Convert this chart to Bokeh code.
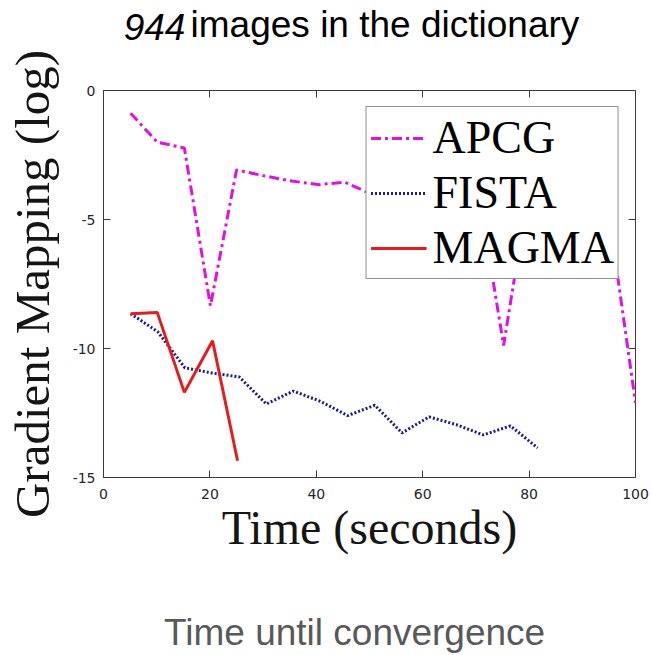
from bokeh.plotting import figure
from bokeh.models import Range1d, FixedTicker, LinearAxis, Legend, LegendItem
from bokeh.embed import file_html
from bokeh.resources import INLINE

# ---- data ----
x_ticks = [0, 20, 40, 60, 80, 100]
y_ticks = [-15, -10, -5, 0]
x_tick_labels = ["0", "20", "40", "60", "80", "100"]
y_tick_labels = ["-15", "-10", "-5", "0"]

apcg_x = [5.1, 10.1, 15.2, 20.1, 25.0, 30.0, 35.0, 40.5, 45.3, 50.2, 55.2, 60.2,
          65.2, 70.2, 75.2, 80.2, 85.2, 90.2, 95.2, 100.0]
apcg_y = [-0.88, -2.0, -2.23, -8.35, -3.08, -3.3, -3.5, -3.65, -3.55, -4.0, -4.1, -3.9,
          -3.7, -3.5, -9.88, -3.5, -3.6, -4.5, -5.1, -12.1]

fista_x = [5.1, 10.2, 15.3, 20.4, 25.5, 30.6, 35.7, 40.8, 45.9, 51.0, 56.1, 61.2,
           66.3, 71.4, 76.5, 81.6]
fista_y = [-8.65, -9.35, -10.75, -10.95, -11.1, -12.15, -11.65, -12.05, -12.6, -12.2,
           -13.27, -12.65, -12.95, -13.35, -13.0, -13.85]

magma_x = [5.1, 10.1, 15.2, 20.5, 25.2]
magma_y = [-8.65, -8.6, -11.7, -9.7, -14.35]

series_names = ["APCG", "FISTA", "MAGMA"]

title_italic = "944"
title_rest = "images in the dictionary"
x_label = "Time (seconds)"
y_label = "Gradient Mapping (log)"
caption = "Time until convergence"

W, H = 652, 655
p = figure(width=W, height=H, output_backend="svg", toolbar_location=None,
           x_range=Range1d(0, 100), y_range=Range1d(-15, 0),
           min_border_left=103, min_border_right=17, min_border_top=90, min_border_bottom=175)
p.title.visible = False
p.grid.visible = False
p.outline_line_color = "#3a3a3a"
p.outline_line_width = 1
p.background_fill_color = "white"
p.border_fill_color = "white"

AXC = "#3a3a3a"


def tick_axis(ax, ticks, labels, standoff):
    ax.ticker = FixedTicker(ticks=ticks)
    ax.axis_line_color = None
    ax.major_tick_in = 7
    ax.major_tick_out = 0
    ax.major_tick_line_color = AXC
    ax.minor_tick_line_color = None
    ax.major_label_text_font = "DejaVu Sans"
    if labels is not None:
        ax.major_label_overrides = {t: s for t, s in zip(ticks, labels)}
        ax.major_label_text_color = "#262626"
        ax.major_label_text_font_size = "14px"
        ax.major_label_standoff = standoff
    else:
        # tick marks only: labels are not drawn at all
        ax.major_label_text_color = None
        ax.major_label_text_font_size = "0px"
        ax.major_label_standoff = 0


def text_axis(pos, text, font, size, color, style, standoff):
    ax = LinearAxis(ticker=FixedTicker(ticks=[pos]), major_label_overrides={pos: text})
    ax.axis_line_color = None
    ax.major_tick_line_color = None
    ax.minor_tick_line_color = None
    ax.major_tick_in = 0
    ax.major_tick_out = 0
    ax.major_label_text_font = font
    ax.major_label_text_font_size = size
    ax.major_label_text_color = color
    ax.major_label_text_font_style = style
    ax.major_label_standoff = standoff
    return ax


xa = p.xaxis[0]
ya = p.yaxis[0]
tick_axis(xa, x_ticks, x_tick_labels, 11)
tick_axis(ya, y_ticks, y_tick_labels, 8)
xa.axis_label = x_label
xa.axis_label_text_font = "Liberation Serif"
xa.axis_label_text_font_size = "48px"
xa.axis_label_text_font_style = "normal"
xa.axis_label_text_color = "#151515"
xa.axis_label_standoff = -1
ya.axis_label = y_label
ya.axis_label_text_font = "Liberation Serif"
ya.axis_label_text_font_size = "49px"
ya.axis_label_text_font_style = "normal"
ya.axis_label_text_color = "#151515"
ya.axis_label_standoff = 10

top_ax = LinearAxis()
right_ax = LinearAxis()
tick_axis(top_ax, x_ticks, None, 0)
tick_axis(right_ax, y_ticks, None, 0)
p.add_layout(top_ax, "above")
p.add_layout(right_ax, "right")

# title line: two text axes stacked so that they share one baseline
p.add_layout(text_axis(52.9, title_rest, "Liberation Sans", "37px", "black", "normal", 46), "above")
p.add_layout(text_axis(9.6, title_italic, "Liberation Sans", "37px", "black", "italic", -39), "above")
# caption below
p.add_layout(text_axis(47.2, caption, "Liberation Sans", "37px", "#595959", "normal", 55), "below")

r_apcg = p.line(apcg_x, apcg_y, line_color="#e010e0", line_width=3, line_dash="10 4 3 4")
r_fista = p.line(fista_x, fista_y, line_color="#1a1a90", line_width=3, line_dash="2 2")
r_magma = p.line(magma_x, magma_y, line_color="#e41c1c", line_width=3)

legend = Legend(items=[LegendItem(label=series_names[0], renderers=[r_apcg]),
                       LegendItem(label=series_names[1], renderers=[r_fista]),
                       LegendItem(label=series_names[2], renderers=[r_magma])],
                location="top_right", margin=16, padding=4, spacing=2,
                glyph_width=56, label_standoff=6,
                label_text_font="Liberation Serif", label_text_font_size="46px",
                label_text_color="black",
                border_line_color="#222222", border_line_width=1,
                background_fill_color="white", background_fill_alpha=1.0)
p.add_layout(legend)

open("out.html", "w").write(file_html(p, INLINE))
